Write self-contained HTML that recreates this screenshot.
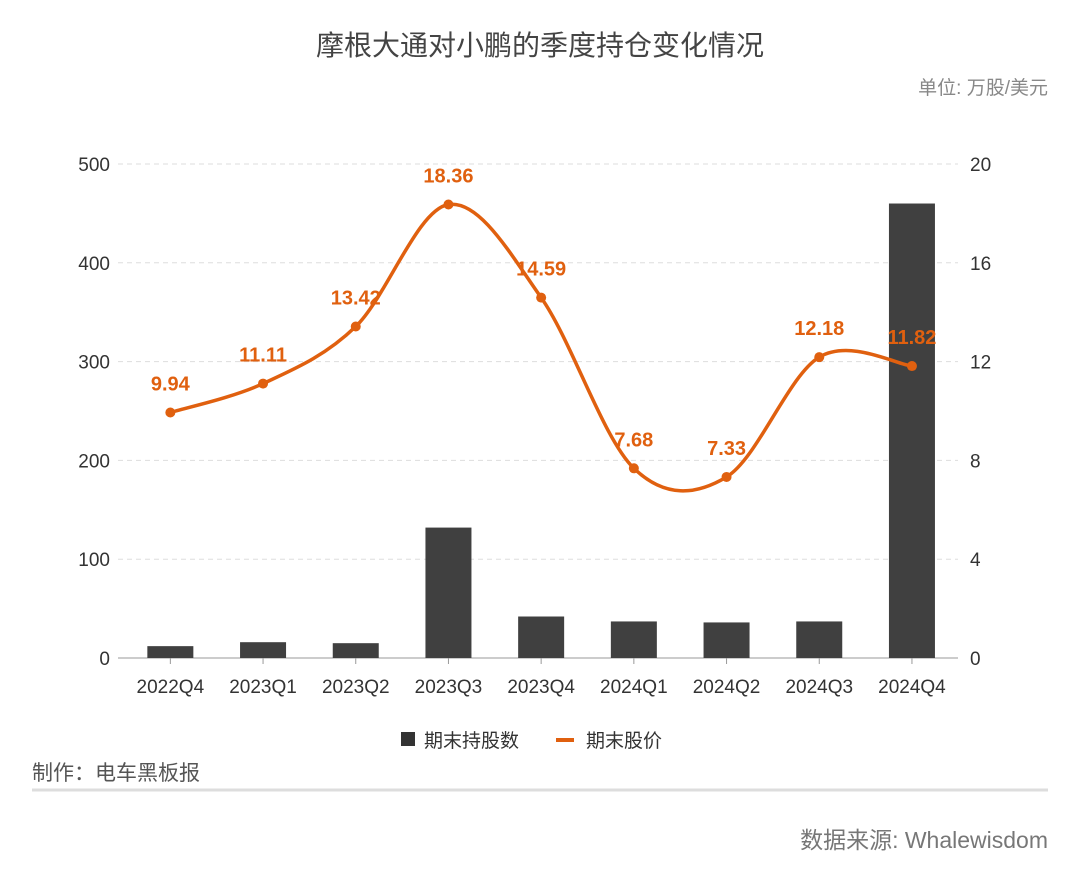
<!DOCTYPE html>
<html><head><meta charset="utf-8">
<style>
body{margin:0;background:#fff;font-family:"Liberation Sans","Noto Sans CJK SC",sans-serif;}
#wrap{position:relative;width:1080px;height:889px;overflow:hidden;}
</style></head>
<body>
<div id="wrap">
<svg id="chart" width="1080" height="889"></svg>
</div>
<script>
const categories=["2022Q4","2023Q1","2023Q2","2023Q3","2023Q4","2024Q1","2024Q2","2024Q3","2024Q4"];
const shares=[12,16,15,132,42,37,36,37,460];
const prices=[9.94,11.11,13.42,18.36,14.59,7.68,7.33,12.18,11.82];
const leftTicks=[0,100,200,300,400,500];
const rightTicks=[0,4,8,12,16,20];

const NS="http://www.w3.org/2000/svg";
const svg=document.getElementById('chart');
const x0=124,step=92.7,y0=658,yTop=164;
const xPos=i=>x0+step*(i+0.5);
const yL=v=>y0-(v/500)*(y0-yTop);
const yR=v=>y0-(v/20)*(y0-yTop);
const F='"Liberation Sans","Noto Sans CJK SC",sans-serif';
function mk(t,a,txt){const e=document.createElementNS(NS,t);for(const k in a)e.setAttribute(k,a[k]);if(txt!==undefined)e.textContent=txt;svg.appendChild(e);return e;}

let e;
e=mk('text',{x:540,y:55,'text-anchor':'middle','font-size':28,fill:'#444','font-family':F},'摩根大通对小鹏的季度持仓变化情况');


e=mk('text',{x:1048,y:94,'text-anchor':'end','font-size':19,fill:'#888','font-family':F},'单位: 万股/美元');



leftTicks.forEach(v=>{
  if(v>0){e=mk('line',{x1:118,x2:958,y1:yL(v),y2:yL(v),stroke:'#ddd','stroke-dasharray':'5,4'});
  
  }
  e=mk('text',{x:110,y:yL(v)+7,'text-anchor':'end','font-size':19,fill:'#333','font-family':F},String(v));
  
  
});
rightTicks.forEach(v=>{
  e=mk('text',{x:970,y:yR(v)+7,'font-size':19,fill:'#333','font-family':F},String(v));
  
  
});
e=mk('line',{x1:118,x2:958,y1:y0,y2:y0,stroke:'#999','stroke-width':1});



categories.forEach((c,i)=>{
  e=mk('rect',{x:xPos(i)-23,y:yL(shares[i]),width:46,height:y0-yL(shares[i]),fill:'#404040'});
  
  
  e=mk('line',{x1:xPos(i),x2:xPos(i),y1:y0,y2:y0+6,stroke:'#999'});
  
  
  e=mk('text',{x:xPos(i),y:y0+35,'text-anchor':'middle','font-size':19,fill:'#333','font-family':F},c);
  
  
});

const pts=prices.map((p,i)=>[xPos(i),yR(p)]);
let d=`M${pts[0][0]},${pts[0][1]}`;
for(let i=0;i<pts.length-1;i++){
  const p0=pts[i-1]||pts[i],p1=pts[i],p2=pts[i+1],p3=pts[i+2]||p2;
  const t=0.5/3*2;
  d+=` C${p1[0]+(p2[0]-p0[0])*t/2},${p1[1]+(p2[1]-p0[1])*t/2} ${p2[0]-(p3[0]-p1[0])*t/2},${p2[1]-(p3[1]-p1[1])*t/2} ${p2[0]},${p2[1]}`;
}
e=mk('path',{d:d,fill:'none',stroke:'#e0600f','stroke-width':3.5});


pts.forEach((p,i)=>{
  e=mk('circle',{cx:p[0],cy:p[1],r:5,fill:'#e0600f'});
  
  
  e=mk('text',{x:p[0],y:p[1]-22,'text-anchor':'middle','font-size':20,'font-weight':'bold',fill:'#e0600f','font-family':F},prices[i].toFixed(2));
  
  
});

e=mk('rect',{x:401,y:732,width:14,height:14,fill:'#333'});


e=mk('text',{x:424,y:747,'font-size':19,fill:'#333','font-family':F},'期末持股数');


e=mk('line',{x1:556,x2:574,y1:740,y2:740,stroke:'#e0600f','stroke-width':4});


e=mk('text',{x:586,y:747,'font-size':19,fill:'#333','font-family':F},'期末股价');



e=mk('text',{x:32,y:780,'font-size':21,fill:'#555','font-family':F},'制作：电车黑板报');


e=mk('line',{x1:32,x2:1048,y1:790,y2:790,stroke:'#ddd','stroke-width':3});


e=mk('text',{x:1048,y:848,'text-anchor':'end','font-size':23,fill:'#777','font-family':F},'数据来源: Whalewisdom');


</script>
</body></html>
